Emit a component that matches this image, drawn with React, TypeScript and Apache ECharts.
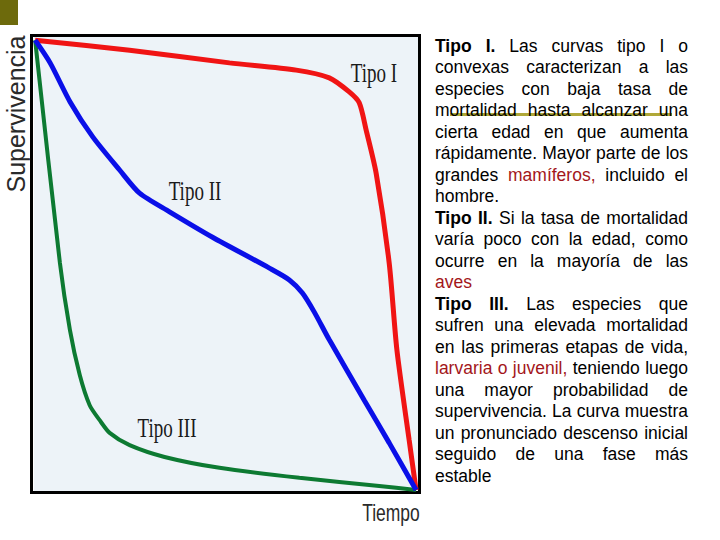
import React, { useEffect, useRef } from "react";
import * as echarts from "echarts";

// Survival curves (x: relative time 0-100, y: relative survival 0-100)
const tipoIX = [0.3, 24.9, 50.9, 68.3, 76.9, 82.1, 84.7, 86.5, 89.1, 92.5, 94.5, 97.7, 99.5];
const tipoIY = [99.3, 97.1, 94.3, 92.7, 91.0, 87.9, 85.5, 79.5, 70.0, 50.2, 31.1, 11.2, 0.2];

const tipoIIX = [0.3, 4.2, 9.4, 15.3, 22.3, 27.5, 35.3, 46.5, 61.3, 66.5, 69.9, 73.0, 76.9, 86.0, 92.5, 99.5];
const tipoIIY = [99.3, 94.3, 85.7, 78.0, 70.7, 65.6, 61.5, 55.9, 49.1, 46.5, 43.6, 39.4, 33.3, 20.0, 10.6, 0.2];

const tipoIIIX = [0.3, 6.75, 9.35, 11.9, 14.5, 17.1, 19.7, 24.9, 34.0, 48.3, 69.1, 89.9, 99.5];
const tipoIIIY = [99.3, 50.2, 35.5, 25.6, 18.9, 15.6, 12.8, 10.1, 7.5, 5.1, 2.9, 1.1, 0.2];

const seriesNames = ["Tipo I", "Tipo II", "Tipo III"];
const yAxisTitle = "Supervivencia";
const xAxisTitle = "Tiempo";

// Paragraph text: "*" prefix = bold, "^" prefix = dark red
const textLines: string[][] = [
  ["*Tipo", "*I.", "Las", "curvas", "tipo", "I", "o"],
  ["convexas", "caracterizan", "a", "las"],
  ["especies", "con", "baja", "tasa", "de"],
  ["mortalidad", "hasta", "alcanzar", "una"],
  ["cierta", "edad", "en", "que", "aumenta"],
  ["rápidamente.", "Mayor", "parte", "de", "los"],
  ["grandes", "^mamíferos,", "incluido", "el"],
  ["hombre."],
  ["*Tipo", "*II.", "Si", "la", "tasa", "de", "mortalidad"],
  ["varía", "poco", "con", "la", "edad,", "como"],
  ["ocurre", "en", "la", "mayoría", "de", "las"],
  ["^aves"],
  ["*Tipo", "*III.", "Las", "especies", "que"],
  ["sufren", "una", "elevada", "mortalidad"],
  ["en", "las", "primeras", "etapas", "de", "vida,"],
  ["^larvaria", "^o", "^juvenil,", "teniendo", "luego"],
  ["una", "mayor", "probabilidad", "de"],
  ["supervivencia.", "La", "curva", "muestra"],
  ["un", "pronunciado", "descenso", "inicial"],
  ["seguido", "de", "una", "fase", "más"],
  ["estable"],
];
const leftAlignedLines = [7, 11, 20];

const zip = (xs: number[], ys: number[]) => xs.map((x, i) => [x, ys[i]]);

export default function App() {
  const ref = useRef<HTMLDivElement>(null);

  useEffect(() => {
    if (!ref.current) return;
    const chart = echarts.init(ref.current, undefined, { renderer: "svg" });

    const FS = 17.5;
    const FAMILY = "Liberation Sans";
    const canvas = document.createElement("canvas");
    const ctx = canvas.getContext("2d")!;
    const measure = (t: string, bold: boolean) => {
      ctx.font = `${bold ? "bold " : ""}${FS}px "${FAMILY}"`;
      return ctx.measureText(t).width;
    };

    const textLeft = 435;
    const textRight = 688;
    const lineTop = 45.7;
    const lineStep = 21.5;
    const textEls: any[] = [];
    textLines.forEach((words, li) => {
      const parsed = words.map((w) => {
        const bold = w.startsWith("*");
        const red = w.startsWith("^");
        const t = bold || red ? w.slice(1) : w;
        return { t, bold, red, w: measure(t, bold) };
      });
      const sum = parsed.reduce((a, p) => a + p.w, 0);
      let gap = measure(" ", false);
      if (!leftAlignedLines.includes(li) && parsed.length > 1) {
        gap = (textRight - textLeft - sum) / (parsed.length - 1);
      }
      let x = textLeft;
      const y = lineTop + li * lineStep;
      parsed.forEach((p) => {
        textEls.push({
          type: "text",
          x,
          y,
          z: 5,
          style: {
            text: p.t,
            fill: p.red ? "#a3161a" : "#000000",
            fontSize: FS,
            fontFamily: FAMILY,
            fontWeight: p.bold ? "bold" : "normal",
            textAlign: "left",
            textVerticalAlign: "middle",
          },
        });
        x += p.w + gap;
      });
    });

    const serif = "Liberation Serif";
    const labelStyle = (text: string) => ({
      text,
      fill: "#1a1a1a",
      fontSize: 28,
      fontFamily: serif,
      textAlign: "center",
      textVerticalAlign: "middle",
    });

    chart.setOption({
      animation: false,
      backgroundColor: "#ffffff",
      grid: {
        left: 34,
        top: 37,
        width: 384,
        height: 454,
        show: true,
        backgroundColor: "#edf3f8",
        borderWidth: 0,
      },
      xAxis: { type: "value", min: 0, max: 100, show: false },
      yAxis: { type: "value", min: 0, max: 100, show: false },
      series: [
        {
          name: seriesNames[0],
          type: "line",
          data: zip(tipoIX, tipoIY),
          symbol: "none",
          smooth: 0.25,
          clip: false,
          lineStyle: { color: "#f01414", width: 5 },
          z: 3,
        },
        {
          name: seriesNames[1],
          type: "line",
          data: zip(tipoIIX, tipoIIY),
          symbol: "none",
          smooth: 0.25,
          clip: false,
          lineStyle: { color: "#0a0fe8", width: 5 },
          z: 4,
        },
        {
          name: seriesNames[2],
          type: "line",
          data: zip(tipoIIIX, tipoIIIY),
          symbol: "none",
          smooth: 0.25,
          clip: false,
          lineStyle: { color: "#0d7a32", width: 4 },
          z: 3,
        },
      ],
      graphic: [
        { type: "rect", shape: { x: 0, y: 0, width: 18, height: 25 }, style: { fill: "#6d6a0c" }, z: 1 },
        {
          type: "rect",
          shape: { x: 31.5, y: 35.5, width: 388, height: 457 },
          style: { fill: "none", stroke: "#000000", lineWidth: 3 },
          z: 1,
        },
        { type: "text", x: 374, y: 73, scaleX: 0.68, style: labelStyle(seriesNames[0]), z: 5 },
        { type: "text", x: 195, y: 191, scaleX: 0.68, style: labelStyle(seriesNames[1]), z: 5 },
        { type: "text", x: 167, y: 428, scaleX: 0.68, style: labelStyle(seriesNames[2]), z: 5 },
        {
          type: "text",
          x: 16,
          y: 114,
          rotation: Math.PI / 2,
          style: {
            text: yAxisTitle,
            fill: "#2a2a2a",
            fontSize: 25,
            fontFamily: FAMILY,
            textAlign: "center",
            textVerticalAlign: "middle",
          },
          z: 5,
        },
        {
          type: "text",
          x: 391,
          y: 513,
          scaleX: 0.76,
          style: {
            text: xAxisTitle,
            fill: "#2a2a2a",
            fontSize: 23,
            fontFamily: FAMILY,
            textAlign: "center",
            textVerticalAlign: "middle",
          },
          z: 5,
        },
        { type: "rect", shape: { x: 450, y: 113, width: 222, height: 3 }, style: { fill: "#b0a838" }, z: 4 },
        ...textEls,
      ],
    });

    return () => chart.dispose();
  }, []);

  return (
    <div
      ref={ref}
      style={{ position: "absolute", left: 0, top: 0, width: 720, height: 540 }}
    />
  );
}
